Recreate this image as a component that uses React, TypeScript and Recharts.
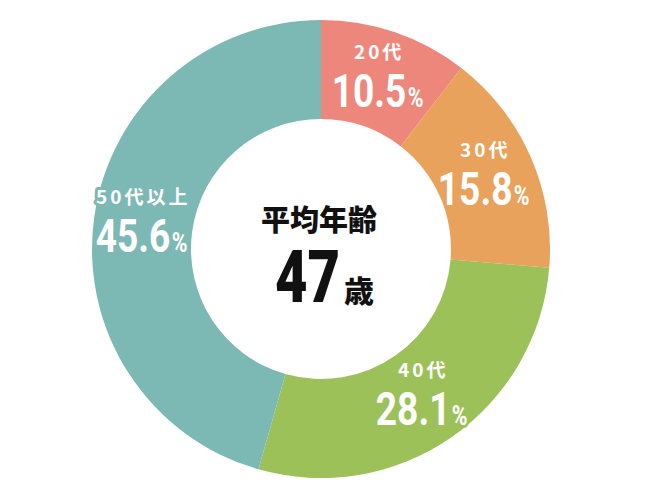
import { PieChart, Pie, Cell } from "recharts";

const ageGroups = ["20代", "30代", "40代", "50代以上"];
const shares = [10.5, 15.8, 28.1, 45.6];
const colors = ["#EE877B", "#E8A25B", "#9CC159", "#7DB9B4"];
const averageAge = 47;

const data = ageGroups.map((name, i) => ({ name, value: shares[i] }));

const RAD = Math.PI / 180;
const numFont = "Roboto, sans-serif";
const jpFont = '"Noto Sans CJK JP", sans-serif';
const squeeze = 0.79; // narrow the digits like a condensed face

const renderLabel = (props: any) => {
  const { cx, cy, midAngle, innerRadius, outerRadius, index } = props;
  const r = (innerRadius + outerRadius) / 2;
  const x = cx + r * Math.cos(-midAngle * RAD);
  const y = cy + r * Math.sin(-midAngle * RAD);
  const outline = {
    stroke: colors[index],
    strokeWidth: 6,
    strokeLinejoin: "round" as const,
    paintOrder: "stroke" as const,
  };
  const numW = 74;
  const left = x - (numW + 21) / 2;
  return (
    <g>
      <text
        x={x}
        y={y - 20}
        textAnchor="middle"
        fill="#fff"
        fontFamily={jpFont}
        fontWeight={700}
        fontSize={19}
        letterSpacing={3}
        style={outline}
      >
        {ageGroups[index]}
      </text>
      <text
        transform={`translate(${left},${y + 28}) scale(${squeeze},1)`}
        fill="#fff"
        fontFamily={numFont}
        fontWeight={700}
        fontSize={47}
        style={outline}
      >
        {shares[index].toFixed(1)}
      </text>
      <text
        transform={`translate(${left + numW + 2},${y + 28}) scale(${squeeze},1)`}
        fill="#fff"
        fontFamily={numFont}
        fontWeight={700}
        fontSize={27}
        style={outline}
      >
        %
      </text>
    </g>
  );
};

export default function App() {
  return (
    <div style={{ position: "absolute", left: 0, top: 0, width: 650, height: 500, background: "#fff" }}>
      <PieChart width={650} height={500} margin={{ top: 0, right: 0, bottom: 0, left: 0 }}>
        <Pie
          data={data}
          dataKey="value"
          nameKey="name"
          cx={321}
          cy={249}
          innerRadius={130}
          outerRadius={229}
          startAngle={90}
          endAngle={-270}
          stroke="none"
          label={renderLabel}
          labelLine={false}
          isAnimationActive={false}
        >
          {data.map((d, i) => (
            <Cell key={d.name} fill={colors[i]} />
          ))}
        </Pie>
        <text
          x={319}
          y={231}
          textAnchor="middle"
          fill="#111"
          fontFamily={jpFont}
          fontWeight={900}
          fontSize={29}
        >
          平均年齢
        </text>
        <text
          transform={`translate(275,302) scale(0.78,1)`}
          fill="#111"
          fontFamily={numFont}
          fontWeight={900}
          fontSize={72}
        >
          {averageAge}
        </text>
        <text
          x={344}
          y={302}
          fill="#111"
          fontFamily={jpFont}
          fontWeight={900}
          fontSize={30}
        >
          歳
        </text>
      </PieChart>
    </div>
  );
}
